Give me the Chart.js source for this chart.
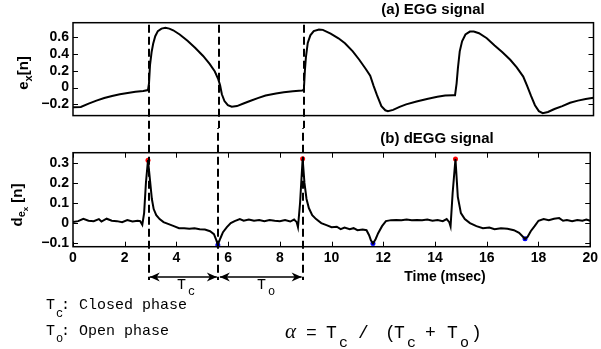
<!DOCTYPE html>
<html>
<head>
<meta charset="utf-8">
<script src="https://cdn.jsdelivr.net/npm/chart.js@4.4.1/dist/chart.umd.min.js"></script>
<style>
  body { margin: 0; background: #fff; width: 601px; height: 349px; overflow: hidden; position: relative; }
  canvas { position: absolute; left: 0; }
  #eggChart { top: 0; }
  #deggChart { top: 128px; }
</style>
</head>
<body>
<canvas id="eggChart" width="601" height="128"></canvas>
<canvas id="deggChart" width="601" height="221"></canvas>
<script>
// (a) EGG signal, time in msec
const eggTime = [0.0, 0.3, 0.6, 0.9, 1.2, 1.5, 1.8, 2.1, 2.4, 2.7, 2.88, 2.92, 2.96, 3.02, 3.08, 3.16, 3.26, 3.4, 3.55, 3.7,
  3.85, 4.1, 4.4, 4.7, 5.0, 5.25, 5.45, 5.58, 5.65, 5.72, 5.82, 5.95, 6.1, 6.3, 6.55, 6.8, 7.1, 7.4, 7.8, 8.1,
  8.45, 8.8, 8.87, 8.91, 8.95, 9.02, 9.12, 9.25, 9.45, 9.6, 9.9, 10.2, 10.45, 10.75, 11.0, 11.25, 11.42, 11.55, 11.68, 11.85,
  12.0, 12.1, 12.3, 12.55, 12.8, 13.2, 13.6, 14.0, 14.3, 14.6, 14.68, 14.74, 14.79, 14.86, 14.95, 15.08, 15.25, 15.4, 15.6, 15.9,
  16.2, 16.5, 16.8, 17.05, 17.3, 17.45, 17.6, 17.75, 17.9, 18.05, 18.25, 18.5, 18.8, 19.1, 19.4, 19.7, 20.0];
const eggValue = [-0.235, -0.23, -0.19, -0.155, -0.125, -0.1, -0.08, -0.065, -0.05, -0.04, -0.03, 0.05, 0.27, 0.42, 0.52, 0.61, 0.67, 0.7, 0.71, 0.7,
  0.68, 0.63, 0.555, 0.47, 0.375, 0.28, 0.19, 0.1, 0.03, -0.08, -0.16, -0.21, -0.228, -0.22, -0.19, -0.16, -0.125, -0.095, -0.07, -0.055,
  -0.045, -0.035, -0.03, 0.2, 0.36, 0.53, 0.62, 0.67, 0.69, 0.685, 0.64, 0.585, 0.525, 0.43, 0.33, 0.22, 0.14, 0.02, -0.09, -0.22,
  -0.27, -0.28, -0.265, -0.23, -0.2, -0.165, -0.135, -0.11, -0.095, -0.09, -0.09, 0.05, 0.23, 0.43, 0.55, 0.63, 0.665, 0.665, 0.645, 0.585,
  0.5, 0.42, 0.33, 0.24, 0.13, 0.02, -0.1, -0.21, -0.28, -0.305, -0.29, -0.255, -0.22, -0.18, -0.155, -0.135, -0.12];

// (b) dEGG signal
const deggTime = [0.0, 0.2, 0.4, 0.6, 0.8, 1.0, 1.1, 1.3, 1.5, 1.7, 1.9, 2.1, 2.3, 2.5, 2.6, 2.68, 2.75, 2.82, 2.9, 2.98,
  3.05, 3.12, 3.22, 3.35, 3.5, 3.7, 3.9, 4.1, 4.3, 4.5, 4.7, 4.9, 5.1, 5.3, 5.45, 5.53, 5.6, 5.7, 5.8, 5.95,
  6.1, 6.25, 6.45, 6.6, 6.8, 7.0, 7.2, 7.4, 7.6, 7.8, 8.0, 8.2, 8.4, 8.55, 8.65, 8.7, 8.78, 8.88, 8.95, 9.03,
  9.12, 9.25, 9.4, 9.6, 9.8, 10.0, 10.2, 10.35, 10.5, 10.7, 10.85, 11.0, 11.2, 11.35, 11.45, 11.52, 11.6, 11.7, 11.8, 11.95,
  12.1, 12.3, 12.5, 12.7, 12.9, 13.1, 13.3, 13.5, 13.7, 13.9, 14.1, 14.3, 14.45, 14.55, 14.6, 14.68, 14.79, 14.88, 15.0, 15.15,
  15.35, 15.6, 15.85, 16.1, 16.3, 16.55, 16.8, 17.05, 17.25, 17.38, 17.48, 17.58, 17.7, 17.85, 18.0, 18.2, 18.4, 18.6, 18.8, 18.95,
  19.1, 19.3, 19.5, 19.7, 19.85, 20.0];
const deggValue = [0.005, 0.01, 0.022, 0.012, 0.01, 0.02, 0.008, 0.022, 0.012, 0.01, 0.005, 0.015, 0.008, 0.012, 0.01, -0.008, 0.05, 0.2, 0.313, 0.21,
  0.12, 0.07, 0.04, 0.02, 0.005, -0.005, -0.015, -0.025, -0.025, -0.028, -0.025, -0.03, -0.032, -0.04, -0.055, -0.08, -0.108, -0.075, -0.045, -0.02,
  0.0, 0.01, 0.02, 0.012, 0.018, 0.012, 0.015, 0.01, 0.015, 0.012, 0.01, 0.015, 0.008, 0.018, 0.005, -0.02, 0.1, 0.32, 0.2, 0.12,
  0.075, 0.04, 0.02, 0.0, -0.01, -0.02, -0.018, -0.03, -0.022, -0.03, -0.025, -0.035, -0.032, -0.035, -0.06, -0.085, -0.101, -0.08, -0.05, -0.015,
  0.01, 0.015, 0.016, 0.015, 0.018, 0.015, 0.016, 0.015, 0.018, 0.012, 0.016, 0.01, 0.02, 0.005, -0.016, 0.15, 0.319, 0.13, 0.05, 0.02,
  0.0, -0.015, -0.025, -0.022, -0.03, -0.025, -0.028, -0.035, -0.048, -0.065, -0.078, -0.068, -0.04, -0.015, 0.012, 0.02, 0.015, 0.022, 0.025, 0.012,
  0.015, 0.01, 0.016, 0.012, 0.018, 0.012];

// picked instants on the dEGG: closing peaks (red) and opening dips (blue)
const closeTime = [2.9, 8.88, 14.79];
const closeValue = [0.313, 0.32, 0.319];
const openTime = [5.6, 11.6, 17.48];
const openValue = [-0.108, -0.101, -0.078];

// dashed guides: start of Tc, end of Tc / start of To, end of To
const phaseTime = [2.93, 5.62, 8.88];

const timeTicks = [0, 2, 4, 6, 8, 10, 12, 14, 16, 18, 20];
const eggTicks = [-0.2, 0, 0.2, 0.4, 0.6];
const deggTicks = [-0.1, 0, 0.1, 0.2, 0.3];

Chart.defaults.font.family = "'Liberation Sans', Arial, sans-serif";
Chart.defaults.color = "#000";

const pairs = (xs, ys) => xs.map((x, i) => ({ x: x, y: ys[i] }));
const fmt = v => {
  const s = String(Math.abs(Number(v.toFixed(2))));
  return v < 0 ? "\u2212" + s : s;
};

const DASH = [8, 4];
const MONO = "'Liberation Mono', 'Courier New', monospace";

function drawTicksAndFrame(chart, withX) {
  const ctx = chart.ctx, a = chart.chartArea;
  const xs = chart.scales.x, ys = chart.scales.y;
  ctx.save();
  ctx.strokeStyle = "#000";
  ctx.lineWidth = 1;
  ctx.beginPath();
  ys.ticks.forEach(t => {
    const py = Math.round(ys.getPixelForValue(t.value)) + 0.5;
    ctx.moveTo(a.left, py); ctx.lineTo(a.left + 5, py);
    ctx.moveTo(a.right, py); ctx.lineTo(a.right - 5, py);
  });
  if (withX) {
    xs.ticks.forEach(t => {
      const px = Math.round(xs.getPixelForValue(t.value)) + 0.5;
      ctx.moveTo(px, a.bottom); ctx.lineTo(px, a.bottom - 5);
      ctx.moveTo(px, a.top); ctx.lineTo(px, a.top + 5);
    });
  }
  ctx.stroke();
  ctx.lineWidth = 1.5;
  ctx.strokeRect(a.left, a.top, a.right - a.left, a.bottom - a.top);
  ctx.restore();
}

function drawGuides(chart, y0, y1, offset) {
  const ctx = chart.ctx, xs = chart.scales.x;
  ctx.save();
  ctx.strokeStyle = "#000";
  ctx.lineWidth = 2;
  ctx.setLineDash(DASH);
  ctx.lineDashOffset = offset;
  ctx.beginPath();
  phaseTime.forEach(t => {
    const px = Math.round(xs.getPixelForValue(t));
    ctx.moveTo(px, y0); ctx.lineTo(px, y1);
  });
  ctx.stroke();
  ctx.restore();
}

// rotated axis label built from pieces [text, size, shift]
function drawYLabel(ctx, x, y, parts) {
  ctx.save();
  ctx.translate(x, y);
  ctx.rotate(-Math.PI / 2);
  let total = 0;
  parts.forEach(p => { ctx.font = "bold " + p[1] + "px 'Liberation Sans'"; total += ctx.measureText(p[0]).width; });
  let cx = -total / 2;
  ctx.textBaseline = "alphabetic";
  ctx.textAlign = "left";
  parts.forEach(p => {
    ctx.font = "bold " + p[1] + "px 'Liberation Sans'";
    ctx.fillText(p[0], cx, p[2]);
    cx += ctx.measureText(p[0]).width;
  });
  ctx.restore();
}

function text(ctx, s, x, y, font, align) {
  ctx.font = font;
  ctx.textAlign = align || "left";
  ctx.textBaseline = "middle";
  ctx.fillText(s, x, y);
}

function arrowHead(ctx, x, y, dir) {
  ctx.beginPath();
  ctx.moveTo(x, y);
  ctx.lineTo(x - dir * 10, y - 4.5);
  ctx.lineTo(x - dir * 7, y);
  ctx.lineTo(x - dir * 10, y + 4.5);
  ctx.closePath();
  ctx.fill();
}

const eggPlugin = {
  id: "eggDecor",
  afterDatasetsDraw(chart) {
    const ctx = chart.ctx, a = chart.chartArea;
    drawGuides(chart, a.top + 2, chart.height, 0);
    drawTicksAndFrame(chart, false);
    ctx.save();
    ctx.fillStyle = "#000";
    text(ctx, "(a) EGG signal", 433, 9.5, "bold 15px 'Liberation Sans'", "center");
    drawYLabel(ctx, 28, 73, [["e", 15, 0], ["x", 11, 4], ["[n]", 15, 0]]);
    ctx.restore();
  }
};

const deggPlugin = {
  id: "deggDecor",
  afterDatasetsDraw(chart) {
    const ctx = chart.ctx, xs = chart.scales.x;
    const topLen = 128 - (22.7 + 2);
    drawGuides(chart, 0, 152, topLen % 12);
    drawTicksAndFrame(chart, true);
    ctx.save();
    ctx.fillStyle = "#000";
    ctx.strokeStyle = "#000";
    text(ctx, "(b) dEGG signal", 437, 10.5, "bold 15px 'Liberation Sans'", "center");
    text(ctx, "Time (msec)", 445, 149, "bold 14px 'Liberation Sans'", "center");
    drawYLabel(ctx, 22, 77, [["d", 15, 0], ["e", 11, 3], ["x", 8, 6], [" [n]", 15, 0]]);

    // Tc and To arrows between the guides
    const ay = 149;
    const p0 = xs.getPixelForValue(phaseTime[0]);
    const p1 = xs.getPixelForValue(phaseTime[1]);
    const p2 = xs.getPixelForValue(phaseTime[2]);
    ctx.lineWidth = 1.5;
    ctx.beginPath();
    ctx.moveTo(p0 + 1, ay); ctx.lineTo(p1 - 1.5, ay);
    ctx.moveTo(p1 + 1.5, ay); ctx.lineTo(p2 - 1, ay);
    ctx.stroke();
    arrowHead(ctx, p0 + 1, ay, -1);
    arrowHead(ctx, p1 - 1.5, ay, 1);
    arrowHead(ctx, p1 + 1.5, ay, -1);
    arrowHead(ctx, p2 - 1, ay, 1);

    const m15 = "15px " + MONO;
    const s12 = "12px " + MONO;
    text(ctx, "T", 177, 157, m15);
    text(ctx, "c", 188, 164, s12);
    text(ctx, "T", 257, 157, m15);
    text(ctx, "o", 268, 164, s12);

    text(ctx, "T", 46, 177, m15);
    text(ctx, "c", 56, 186, s12);
    text(ctx, ": Closed phase", 61, 177, m15);
    text(ctx, "T", 46, 203, m15);
    text(ctx, "o", 56, 211, s12);
    text(ctx, ": Open phase", 61, 203, m15);

    const m18 = "18px " + MONO;
    const s14 = "15px " + MONO;
    text(ctx, "\u03b1", 285, 204, "italic 21px 'Liberation Serif'");
    text(ctx, "=", 306, 205, m18);
    text(ctx, "T", 326, 205, m18);
    text(ctx, "c", 339, 215, s14);
    text(ctx, "/", 358, 205, m18);
    text(ctx, "(", 385, 205, m18);
    text(ctx, "T", 394, 205, m18);
    text(ctx, "c", 407, 215, s14);
    text(ctx, "+", 425, 205, m18);
    text(ctx, "T", 447, 205, m18);
    text(ctx, "o", 460, 215, s14);
    text(ctx, ")", 471, 205, m18);
    ctx.restore();
  }
};

const tickFont = { size: 14, weight: "bold" };

new Chart(document.getElementById("eggChart"), {
  type: "line",
  data: {
    datasets: [{
      data: pairs(eggTime, eggValue),
      borderColor: "#000",
      borderWidth: 2,
      pointRadius: 0,
      tension: 0
    }]
  },
  options: {
    responsive: false,
    animation: false,
    events: [],
    layout: { padding: { left: 0, right: 7.5, top: 22.7, bottom: 11.7 } },
    plugins: { legend: { display: false }, tooltip: { enabled: false } },
    scales: {
      x: { type: "linear", min: 0, max: 20, display: false },
      y: {
        min: -0.333, max: 0.77,
        afterBuildTicks: s => { s.ticks = eggTicks.map(v => ({ value: v })); },
        afterFit: s => { s.width = 73; },
        grid: { display: false, drawTicks: false },
        border: { display: false },
        ticks: { font: tickFont, padding: 4, callback: v => fmt(v) }
      }
    }
  },
  plugins: [eggPlugin]
});

new Chart(document.getElementById("deggChart"), {
  type: "line",
  data: {
    datasets: [
      {
        data: pairs(deggTime, deggValue),
        borderColor: "#000",
        borderWidth: 2,
        pointRadius: 0,
        tension: 0
      },
      {
        data: pairs(closeTime, closeValue),
        showLine: false,
        pointRadius: 2.5,
        pointBorderWidth: 0,
        pointBackgroundColor: "#ff0000",
        clip: false
      },
      {
        data: pairs(openTime, openValue),
        showLine: false,
        pointRadius: 2.5,
        pointBorderWidth: 0,
        pointBackgroundColor: "#0000ff",
        clip: false
      }
    ]
  },
  options: {
    responsive: false,
    animation: false,
    events: [],
    layout: { padding: { left: 0, right: 7.5, top: 24.7, bottom: 74.3 } },
    plugins: { legend: { display: false }, tooltip: { enabled: false } },
    scales: {
      x: {
        type: "linear", min: 0, max: 20,
        afterBuildTicks: s => { s.ticks = timeTicks.map(v => ({ value: v })); },
        afterFit: s => { s.height = 28; },
        grid: { display: false, drawTicks: false },
        border: { display: false },
        ticks: { font: tickFont, padding: 3, maxRotation: 0 }
      },
      y: {
        min: -0.117, max: 0.35,
        afterBuildTicks: s => { s.ticks = deggTicks.map(v => ({ value: v })); },
        afterFit: s => { s.width = 73; },
        grid: { display: false, drawTicks: false },
        border: { display: false },
        ticks: { font: tickFont, padding: 4, callback: v => fmt(v) }
      }
    }
  },
  plugins: [deggPlugin]
});
</script>
</body>
</html>
